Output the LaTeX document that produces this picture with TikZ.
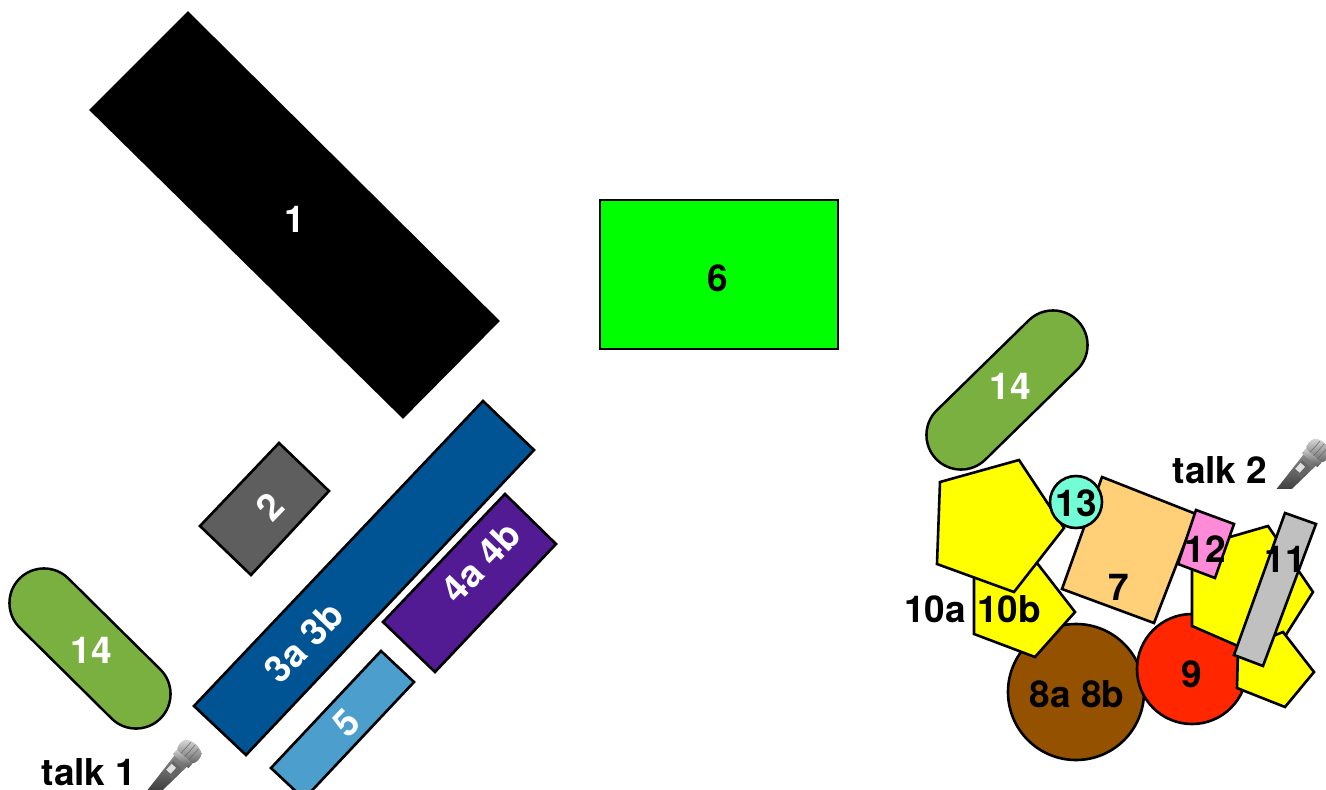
\documentclass[tikz,border=0pt]{standalone}
\usepackage{fontspec}
\setmainfont{TeX Gyre Heros}
\definecolor{cOlive}{HTML}{7AB03F}
\definecolor{cBlue}{HTML}{005493}
\definecolor{cPurple}{HTML}{531B93}
\definecolor{cGrey}{HTML}{5E5E5E}
\definecolor{cSky}{HTML}{4C9ECC}
\definecolor{cOrange}{HTML}{FFD078}
\definecolor{cPink}{HTML}{FF8AD8}
\definecolor{cTurq}{HTML}{73FDD6}
\definecolor{cRed}{HTML}{FF2600}
\definecolor{cBrown}{HTML}{945200}
\definecolor{cSilver}{HTML}{C0C0C0}
\definecolor{cLime}{HTML}{00FF00}
\definecolor{cYellow}{HTML}{FFFF00}
\tikzset{
  x=1pt,y=-1pt,
  shp/.style={draw=black,line width=2.6pt,line join=miter,fill=#1},
  wlab/.style={text=white,font=\fontsize{37}{37}\selectfont\bfseries,inner sep=0pt},
  blab/.style={text=black,font=\fontsize{37}{37}\selectfont\bfseries,inner sep=0pt},
}
\newcommand{\micshape}{%
  % head centred at origin, handle along +x
  \shade[top color=black!45,bottom color=black!85] (9,-8.5) -- (62,-4.8) -- (62,4.8) -- (9,8.5) -- cycle;
  \fill[black!60] (16,-5.5) rectangle (30,5.5);
  \fill[black!12] (19,-1) rectangle (27,5);
  \shade[top color=black!20,bottom color=black!65] (5,-10.5) rectangle (11,10.5);
  \shade[top color=black!15,bottom color=black!60] (5,-10) .. controls (2,-13) and (-4,-13) .. (-8,-11) .. controls (-13,-6) and (-13,6) .. (-8,11) .. controls (-4,13) and (2,13) .. (5,10) -- cycle;
  \draw[black!60,line width=.5pt] (-10,-5) -- (5,-5) (-11,0) -- (5,0) (-10,5) -- (5,5);
}
\begin{document}
\begin{tikzpicture}
\useasboundingbox (0,0) rectangle (1326,790);
\begin{scope}
\clip (0,0) rectangle (1326,790);
% left group
\draw[shp=black] (188,13) -- (498,321) -- (403,417) -- (91,110) -- cycle;
\draw[shp=cLime] (600,200) rectangle (838,349);
\draw[shp=cGrey] (279,443) -- (329,491) -- (251,575) -- (200,526) -- cycle;
\draw[shp=cBlue] (483,401) -- (534,450) -- (246,755) -- (194,706) -- cycle;
\draw[shp=cPurple] (505,494) -- (556,544) -- (435,672) -- (383,622) -- cycle;
\draw[shp=cSky] (381,651) -- (414,682) -- (304,799) -- (271,768) -- cycle;
% capsules
\foreach \ax/\ay/\bx/\by in {1053/345/961/435,44/603/136/694}{
  \draw[line width=71.6pt,line cap=round,black] (\ax,\ay) -- (\bx,\by);
  \draw[line width=66.4pt,line cap=round,cOlive] (\ax,\ay) -- (\bx,\by);
}
% right group
\draw[shp=cBrown] (1076,692) circle[radius=68];
\draw[shp=cRed] (1192,669) circle[radius=55];
\draw[shp=cYellow] (974,575) -- (1037,563) -- (1075,612) -- (1035,657) -- (974,634) -- cycle;
\draw[shp=cYellow] (940,482) -- (1019,460) -- (1064,528) -- (1014,592) -- (937,564) -- cycle;
\draw[shp=cOrange] (1102,477) -- (1196,514) -- (1154,623) -- (1062,589) -- cycle;
\draw[shp=cTurq] (1076,502) circle[radius=26];
\draw[shp=cYellow] (1192,548) -- (1268,526) -- (1313,592) -- (1270,660) -- (1192,626) -- cycle;
\draw[shp=cYellow] (1238,650) -- (1283,632) -- (1314,672) -- (1285,707) -- (1237,688) -- cycle;
\draw[shp=cPink] (1196,510) -- (1234,524) -- (1215,578) -- (1178,564) -- cycle;
\draw[shp=cSilver] (1285,513) -- (1316,524) -- (1263,666) -- (1234,655) -- cycle;
% microphones
\begin{scope}
\clip (140,735) rectangle (210,790);
\begin{scope}[shift={(188,753)},rotate=-132]\micshape\end{scope}
\end{scope}
\begin{scope}
\clip (1270,435) rectangle (1326,488);
\begin{scope}[shift={(1317,452)},rotate=-132]\micshape\end{scope}
\end{scope}
\end{scope}
% labels
\node[wlab] (n1) at (295,219) {1};
\node[blab] (n6) at (718,278) {6};
\node[wlab] (n14a) at (1010,386) {14};
\node[wlab] (n14b) at (91,650) {14};
\node[wlab,rotate=46] (n2) at (270,507) {2};
\node[wlab,rotate=46] (n3) at (304,642) {3a 3b};
\node[wlab,rotate=46] (n4) at (481,562) {4a 4b};
\node[wlab,rotate=46] (n5) at (346,723) {5};
\node[blab] (n13) at (1076,503) {13};
\node[blab] (n12) at (1205,549) {12};
\node[blab] (n11) at (1285,559) {11};
\node[blab] (n7) at (1119,587) {7};
\node[blab] (n10a) at (935,609) {10a};
\node[blab] (n10b) at (1009,609) {10b};
\node[blab] (n9) at (1192,674) {9};
\node[blab] (n8) at (1077,694) {8a 8b};
\node[blab] (t2) at (1220,470) {talk 2};
\node[blab] (t1) at (89,772) {talk 1};
\end{tikzpicture}
\end{document}
